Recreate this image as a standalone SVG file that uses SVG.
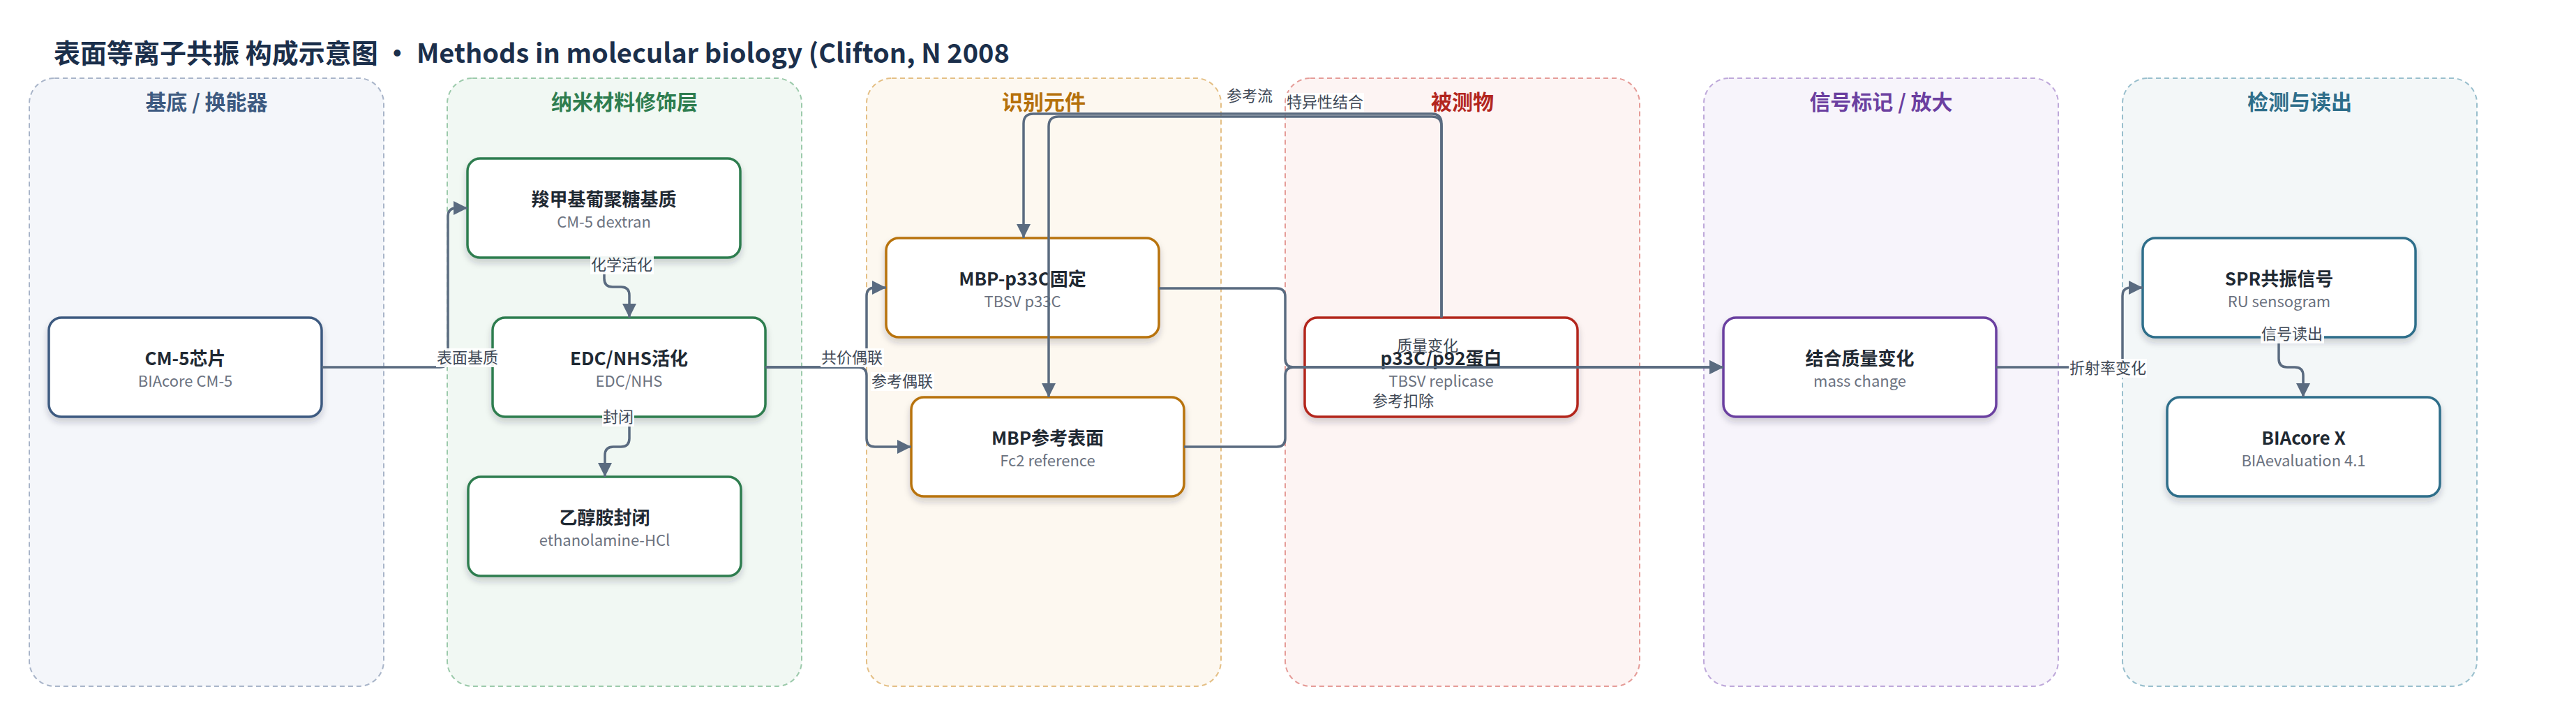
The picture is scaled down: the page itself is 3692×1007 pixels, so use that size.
<svg xmlns="http://www.w3.org/2000/svg" width="3692" height="1007" viewBox="0 0 3692 1007">
<defs>
<style>
text{font-family:"Noto Sans CJK SC","Noto Sans",sans-serif}
.title{font-size:38px;font-weight:700;fill:#1b2f4b}
.gt{font-size:30px;font-weight:700;text-anchor:middle}
.grp{stroke-width:2;stroke-dasharray:7 5}
.node{fill:#fff;stroke-width:3.5;filter:url(#sh)}
.nt{font-size:26px;font-weight:700;fill:#1f2933;text-anchor:middle}
.ns{font-size:22px;fill:#6b7280;text-anchor:middle}
.edge{fill:none;stroke:#5a6b80;stroke-width:3.5}
.lbg{fill:#fff;opacity:0.92}
.lbl{font-size:22px;fill:#3f4956;text-anchor:middle}
</style>
<filter id="sh" x="-10%" y="-10%" width="120%" height="135%">
<feDropShadow dx="0" dy="6" stdDeviation="5" flood-color="#1f2933" flood-opacity="0.2"/>
</filter>
<marker id="arr" viewBox="0 0 20 20" refX="20" refY="10" markerWidth="20" markerHeight="20" markerUnits="userSpaceOnUse" orient="auto">
<path d="M0,0 L20,10 L0,20 z" fill="#5a6b80"/>
</marker>
</defs>
<rect width="3692" height="1007" fill="#fff"/>
<text class="title" x="77" y="90">表面等离子共振 构成示意图 · Methods in molecular biology (Clifton, N 2008</text>

<g id="groups">
<g id="g-substrate">
<rect class="grp" x="42" y="112" width="508" height="871" rx="36" fill="#f4f6fa" stroke="#a9b5c9"/>
<text class="gt" x="296" y="157" fill="#3d5a80">基底 / 换能器</text>
</g>
<g id="g-nano">
<rect class="grp" x="641" y="112" width="508" height="871" rx="36" fill="#f1f8f3" stroke="#9ccaab"/>
<text class="gt" x="895" y="157" fill="#2e7d4f">纳米材料修饰层</text>
</g>
<g id="g-recog">
<rect class="grp" x="1242" y="112" width="508" height="871" rx="36" fill="#fdf8f0" stroke="#e4bf85"/>
<text class="gt" x="1496" y="157" fill="#b5700a">识别元件</text>
</g>
<g id="g-analyte">
<rect class="grp" x="1842" y="112" width="508" height="871" rx="36" fill="#fdf4f3" stroke="#e59c98"/>
<text class="gt" x="2096" y="157" fill="#b3261e">被测物</text>
</g>
<g id="g-signal">
<rect class="grp" x="2442" y="112" width="508" height="871" rx="36" fill="#f7f4fb" stroke="#bea8da"/>
<text class="gt" x="2696" y="157" fill="#6b3fa0">信号标记 / 放大</text>
</g>
<g id="g-detect">
<rect class="grp" x="3042" y="112" width="508" height="871" rx="36" fill="#f3f7f8" stroke="#99bfcd"/>
<text class="gt" x="3296" y="157" fill="#2e6e8a">检测与读出</text>
</g>
</g>

<g id="n-cm5">
<rect class="node" x="70" y="455" width="391" height="142" rx="18" stroke="#3d5a80"/>
<text class="nt" x="265.5" y="523">CM-5芯片</text>
<text class="ns" x="265.5" y="554">BIAcore CM-5</text>
</g>
<g id="n-dextran">
<rect class="node" x="670" y="227" width="391" height="142" rx="18" stroke="#2e7d4f"/>
<text class="nt" x="865.5" y="295">羧甲基葡聚糖基质</text>
<text class="ns" x="865.5" y="326">CM-5 dextran</text>
</g>
<g id="n-edc">
<rect class="node" x="706" y="455" width="391" height="142" rx="18" stroke="#2e7d4f"/>
<text class="nt" x="901.5" y="523">EDC/NHS活化</text>
<text class="ns" x="901.5" y="554">EDC/NHS</text>
</g>
<g id="n-ethanol">
<rect class="node" x="671" y="683" width="391" height="142" rx="18" stroke="#2e7d4f"/>
<text class="nt" x="866.5" y="751">乙醇胺封闭</text>
<text class="ns" x="866.5" y="782">ethanolamine-HCl</text>
</g>
<g id="n-mbp">
<rect class="node" x="1270" y="341" width="391" height="142" rx="18" stroke="#b8730a"/>
<text class="nt" x="1465.5" y="409">MBP-p33C固定</text>
<text class="ns" x="1465.5" y="440">TBSV p33C</text>
</g>
<g id="n-ref">
<rect class="node" x="1306" y="569" width="391" height="142" rx="18" stroke="#b8730a"/>
<text class="nt" x="1501.5" y="637">MBP参考表面</text>
<text class="ns" x="1501.5" y="668">Fc2 reference</text>
</g>
<g id="n-p33c">
<rect class="node" x="1870" y="455" width="391" height="142" rx="18" stroke="#b3261e"/>
<text class="nt" x="2065.5" y="523">p33C/p92蛋白</text>
<text class="ns" x="2065.5" y="554">TBSV replicase</text>
</g>
<g id="n-mass">
<rect class="node" x="2470" y="455" width="391" height="142" rx="18" stroke="#6b3fa0"/>
<text class="nt" x="2665.5" y="523">结合质量变化</text>
<text class="ns" x="2665.5" y="554">mass change</text>
</g>
<g id="n-spr">
<rect class="node" x="3071" y="341" width="391" height="142" rx="18" stroke="#2e6e8a"/>
<text class="nt" x="3266.5" y="409">SPR共振信号</text>
<text class="ns" x="3266.5" y="440">RU sensogram</text>
</g>
<g id="n-biacore">
<rect class="node" x="3106" y="569" width="391" height="142" rx="18" stroke="#2e6e8a"/>
<text class="nt" x="3301.5" y="637">BIAcore X</text>
<text class="ns" x="3301.5" y="668">BIAevaluation 4.1</text>
</g>

<g id="connectors">
<path class="edge" marker-end="url(#arr)" d="M461,526 H630 Q642,526 642,514 V310 Q642,298 654,298 H670"/>
<path class="edge" marker-end="url(#arr)" d="M866,369 V399 Q866,411 878,411 H890 Q902,411 902,423 V455"/>
<path class="edge" marker-end="url(#arr)" d="M902,597 V628 Q902,640 890,640 H879 Q867,640 867,652 V683"/>
<path class="edge" marker-end="url(#arr)" d="M1097,526 H1230 Q1242,526 1242,514 V424 Q1242,412 1254,412 H1270"/>
<path class="edge" marker-end="url(#arr)" d="M1097,526 H1230 Q1242,526 1242,538 V628 Q1242,640 1254,640 H1306"/>
<path class="edge" marker-end="url(#arr)" d="M2066,455 V177 Q2066,163 2052,163 H1481 Q1467,163 1467,177 V341"/>
<path class="edge" marker-end="url(#arr)" d="M2066,455 V181 Q2066,167 2052,167 H1517 Q1503,167 1503,181 V569"/>
<path class="edge" marker-end="url(#arr)" d="M1661,413 H1830 Q1842,413 1842,425 V514 Q1842,526 1854,526 H2470"/>
<path class="edge" marker-end="url(#arr)" d="M1697,640 H1830 Q1842,640 1842,628 V538 Q1842,526 1854,526 H2470"/>
<path class="edge" marker-end="url(#arr)" d="M2861,526 H3030 Q3042,526 3042,514 V424 Q3042,412 3054,412 H3071"/>
<path class="edge" marker-end="url(#arr)" d="M3266,483 V514 Q3266,526 3278,526 H3289 Q3301,526 3301,538 V569"/>

<rect class="lbg" x="625" y="499" width="91" height="27"/>
<text class="lbl" x="670" y="520">表面基质</text>
<rect class="lbg" x="846" y="366" width="91" height="27"/>
<text class="lbl" x="891" y="387">化学活化</text>
<rect class="lbg" x="863" y="584" width="46" height="27"/>
<text class="lbl" x="886" y="605">封闭</text>
<rect class="lbg" x="1176" y="499" width="91" height="27"/>
<text class="lbl" x="1221" y="520">共价偶联</text>
<rect class="lbg" x="1248" y="533" width="91" height="27"/>
<text class="lbl" x="1293" y="554">参考偶联</text>
<rect class="lbg" x="1757" y="124" width="68" height="27"/>
<text class="lbl" x="1791" y="145">参考流</text>
<rect class="lbg" x="1843" y="133" width="112" height="27"/>
<text class="lbl" x="1899" y="154">特异性结合</text>
<text class="lbl" x="2046" y="503">质量变化</text>
<text class="lbl" x="2011" y="582">参考扣除</text>
<rect class="lbg" x="2965" y="514" width="112" height="27"/>
<text class="lbl" x="3021" y="535">折射率变化</text>
<rect class="lbg" x="3240" y="465" width="91" height="27"/>
<text class="lbl" x="3285" y="486">信号读出</text>
</g>
</svg>
